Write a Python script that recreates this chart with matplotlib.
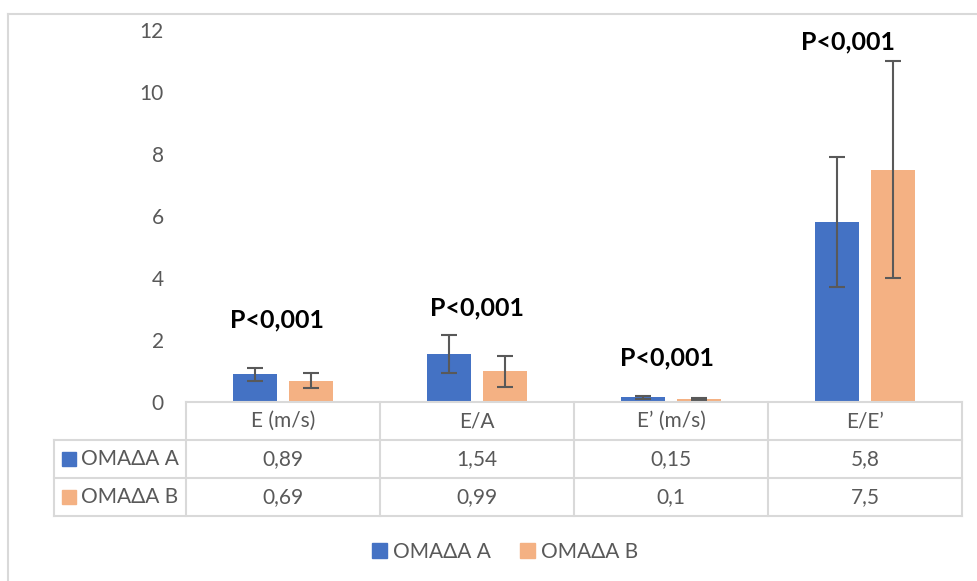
import matplotlib.pyplot as plt
import numpy as np
from matplotlib.patches import Rectangle, Patch
from matplotlib.lines import Line2D

plt.rcParams['font.family'] = ['Lato', 'Noto Sans', 'DejaVu Sans']

# dati
categorie = ['E (m/s)', 'E/A', 'E’ (m/s)', 'E/E’']
gruppi = ['ΟΜΑΔΑ Α', 'ΟΜΑΔΑ Β']
valori_a = [0.89, 1.54, 0.15, 5.8]
valori_b = [0.69, 0.99, 0.1, 7.5]
err_a = [0.22, 0.62, 0.05, 2.1]
err_b = [0.24, 0.50, 0.04, 3.5]
p_labels = ['P<0,001', 'P<0,001', 'P<0,001', 'P<0,001']
y_ticks = [0, 2, 4, 6, 8, 10, 12]

col_a = '#4472C4'
col_b = '#F4B183'
grigio = '#595959'
linee = '#D9D9D9'

W, H = 977, 581
fig = plt.figure(figsize=(W / 100, H / 100), dpi=100)


def fx(px):
    return px / W


def fy(py):
    return 1 - py / H


# bordo del grafico
fig.add_artist(Line2D([fx(8), fx(8)], [fy(14), fy(581)], color=linee, lw=1.5))
fig.add_artist(Line2D([fx(8), fx(977)], [fy(14), fy(14)], color=linee, lw=1.5))

# area del grafico
x0, x1 = 186, 962
y0, y1 = 402, 30
ax = fig.add_axes([fx(x0), fy(y0), (x1 - x0) / W, (y0 - y1) / H])
x = np.arange(len(categorie))
bw = 0.227
off = 0.142
ax.bar(x - off, valori_a, bw, color=col_a, zorder=2)
ax.bar(x + off, valori_b, bw, color=col_b, zorder=2)
ek = dict(ecolor=grigio, elinewidth=1.5, capsize=5.5, capthick=1.5, fmt='none', zorder=3)
ax.errorbar(x - off, valori_a, yerr=err_a, **ek)
ax.errorbar(x + off, valori_b, yerr=err_b, **ek)

# etichette P
p_x = [-0.03, 0.0, -0.02, -0.09]
p_y = [2.65, 3.05, 1.42, 11.6]
for i, lab in enumerate(p_labels):
    ax.text(x[i] + p_x[i], p_y[i], lab, ha='center', va='center',
            fontsize=18, fontweight='bold', color='black')

ax.set_xlim(-0.5, len(categorie) - 0.5)
ax.set_ylim(0, 12)
ax.set_yticks(y_ticks)
ax.set_yticklabels([str(t) for t in y_ticks])
ax.tick_params(axis='y', length=0, pad=16, labelsize=15, labelcolor=grigio)
ax.set_xticks([])
for s in ax.spines.values():
    s.set_visible(False)

# tabella dati
righe = [402, 440, 478, 516]
colonne = [x0 + i * (x1 - x0) / len(categorie) for i in range(len(categorie) + 1)]
left_cell = 54
lk = dict(color=linee, lw=1.5)
fig.add_artist(Line2D([fx(x0), fx(x1)], [fy(righe[0])] * 2, **lk))
for r in righe[1:]:
    fig.add_artist(Line2D([fx(left_cell), fx(x1)], [fy(r)] * 2, **lk))
for c in colonne:
    fig.add_artist(Line2D([fx(c)] * 2, [fy(righe[0]), fy(righe[-1])], **lk))
fig.add_artist(Line2D([fx(left_cell)] * 2, [fy(righe[1]), fy(righe[-1])], **lk))

tk = dict(ha='center', va='center', fontsize=15, color=grigio)
for i, cat in enumerate(categorie):
    cx = (colonne[i] + colonne[i + 1]) / 2
    fig.text(fx(cx), fy((righe[0] + righe[1]) / 2), cat, **tk)
    fig.text(fx(cx), fy((righe[1] + righe[2]) / 2), str(valori_a[i]).replace('.', ','), **tk)
    fig.text(fx(cx), fy((righe[2] + righe[3]) / 2), str(valori_b[i]).replace('.', ','), **tk)

for j, (g, c) in enumerate(zip(gruppi, [col_a, col_b])):
    cy = (righe[j + 1] + righe[j + 2]) / 2
    fig.add_artist(Rectangle((fx(62), fy(cy + 7)), 14 / W, 14 / H, color=c))
    fig.text(fx(81), fy(cy), g, ha='left', va='center', fontsize=15, color=grigio)

# legenda
handles = [Patch(color=col_a, label=gruppi[0]), Patch(color=col_b, label=gruppi[1])]
fig.legend(handles=handles, loc='center', bbox_to_anchor=(fx(505), fy(552)), ncol=2,
           frameon=False, fontsize=15, labelcolor=grigio, handlelength=0.7,
           handleheight=0.7, handletextpad=0.3, columnspacing=1.4)

fig.savefig('out.png', dpi=100)
